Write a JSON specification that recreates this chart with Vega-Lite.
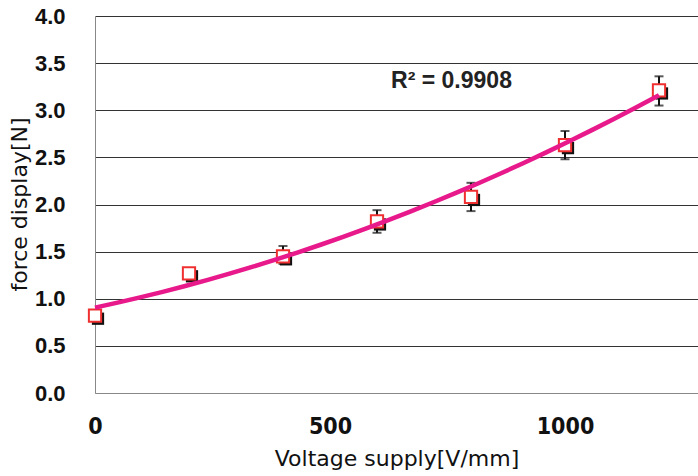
{
  "$schema": "https://vega.github.io/schema/vega-lite/v6.json",
  "width": 603,
  "height": 377,
  "autosize": {"type": "none"},
  "padding": {"left": 95, "top": 16, "right": 0, "bottom": 83},
  "background": "white",
  "config": {"view": {"stroke": null}},
  "datasets": {
    "pts": [
      {"voltage": 0, "force": 0.82, "lo": 0.82, "hi": 0.82, "err": 0},
      {"voltage": 200, "force": 1.27, "lo": 1.27, "hi": 1.27, "err": 0},
      {"voltage": 400, "force": 1.45, "lo": 1.37, "hi": 1.56, "err": 1},
      {"voltage": 600, "force": 1.82, "lo": 1.70, "hi": 1.94, "err": 1},
      {"voltage": 800, "force": 2.08, "lo": 1.93, "hi": 2.23, "err": 1},
      {"voltage": 1000, "force": 2.63, "lo": 2.48, "hi": 2.78, "err": 1},
      {"voltage": 1200, "force": 3.21, "lo": 3.05, "hi": 3.36, "err": 1}
    ],
    "label": [{"voltage": 630, "force": 3.236, "text": "R² = 0.9908"}]
  },
  "layer": [
    {
      "data": {"name": "pts"},
      "transform": [{"filter": "datum.err > 0"}],
      "mark": {"type": "errorbar", "color": "#111", "thickness": 2, "ticks": {"size": 9, "thickness": 2, "color": "#111"}},
      "encoding": {
        "x": {"field": "voltage", "type": "quantitative",
          "scale": {"domain": [0, 1283], "nice": false, "zero": false},
          "axis": {"values": [0, 500, 1000], "format": "d", "grid": false, "ticks": false, "domainColor": "#888", "domainWidth": 1, "labelFlush": false,
            "labelFont": "DejaVu Sans Condensed", "labelFontSize": 23, "labelFontWeight": "bold", "labelColor": "#111", "labelPadding": 22,
            "title": "Voltage supply[V/mm]", "titleFont": "DejaVu Sans", "titleFontSize": 22, "titleFontWeight": "normal", "titleColor": "#111", "titlePadding": 10}},
        "y": {"field": "lo", "type": "quantitative",
          "scale": {"domain": [0, 4], "nice": false},
          "axis": {"values": [0, 0.5, 1, 1.5, 2, 2.5, 3, 3.5, 4], "format": ".1f", "grid": true,
            "gridColor": {"condition": {"test": "datum.value === 0", "value": "#888"}, "value": "#333"}, "gridWidth": 1,
            "ticks": false, "domainColor": "#888", "domainWidth": 1, "labelFlush": false,
            "labelFont": "Liberation Sans", "labelFontSize": 22, "labelFontWeight": "bold", "labelColor": "#111", "labelPadding": 30,
            "title": "force display[N]", "titleFont": "DejaVu Sans", "titleFontSize": 22, "titleFontWeight": "normal", "titleColor": "#111",
            "titleX": -76, "titleY": 188, "titleAlign": "center", "titleBaseline": "middle", "titleAngle": -90}},
        "y2": {"field": "hi"}
      }
    },
    {
      "data": {"name": "pts"},
      "mark": {"type": "square", "filled": true, "color": "#111", "size": 150, "xOffset": 3, "yOffset": 3, "opacity": 1},
      "encoding": {
        "x": {"field": "voltage", "type": "quantitative"},
        "y": {"field": "force", "type": "quantitative"}
      }
    },
    {
      "data": {"name": "pts"},
      "mark": {"type": "square", "filled": false, "fill": "white", "fillOpacity": 1, "stroke": "#f03030", "strokeWidth": 2, "size": 150, "opacity": 1},
      "encoding": {
        "x": {"field": "voltage", "type": "quantitative"},
        "y": {"field": "force", "type": "quantitative"}
      }
    },
    {
      "data": {"name": "pts"},
      "transform": [{"regression": "force", "on": "voltage", "method": "poly", "order": 2, "extent": [0, 1200]}],
      "mark": {"type": "line", "color": "#e8198b", "strokeWidth": 4.5},
      "encoding": {
        "x": {"field": "voltage", "type": "quantitative"},
        "y": {"field": "force", "type": "quantitative"}
      }
    },
    {
      "data": {"name": "label"},
      "mark": {"type": "text", "align": "left", "baseline": "alphabetic", "font": "Liberation Sans", "fontSize": 23, "fontWeight": "bold", "color": "#222"},
      "encoding": {
        "x": {"field": "voltage", "type": "quantitative"},
        "y": {"field": "force", "type": "quantitative"},
        "text": {"field": "text"}
      }
    }
  ]
}
